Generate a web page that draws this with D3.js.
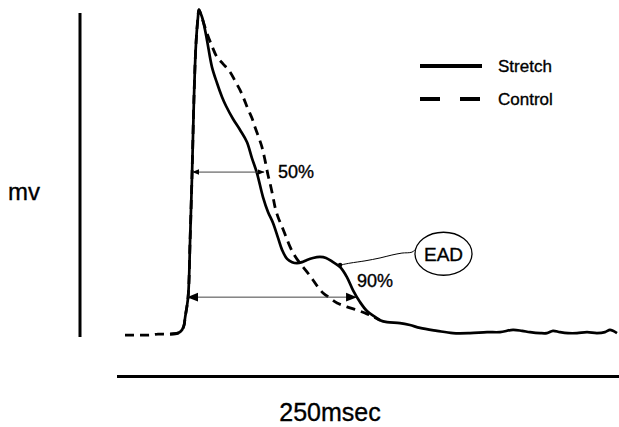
<!DOCTYPE html>
<html><head><meta charset="utf-8">
<script src="https://cdn.jsdelivr.net/npm/d3@7"></script>
<style>body{margin:0;background:#fff}svg{display:block}text{font-family:"Liberation Sans",Arial,Helvetica,sans-serif;fill:#000;stroke:#000;stroke-width:0.35px}</style>
</head><body>
<script>
// time in ms, voltage as % of scale bar
const stretchT = [26.4,30.4,32.4,33.4,33.9,35.4,36.4,37.4,38.3,39.3,40.3,40.8,41.8,42.8,44.8,47.3,49.8,52.3,54.3,57.8,61.3,64.7,67.2,69.7,72.7,75.2,77.7,80.2,82.2,84.7,87.2,89.6,92.1,94.6,97.6,101.1,104.1,107.6,111.1,114.5,117.5,121.0,124.5,128.5,131.0,134.5,140.9,145.9,150.9,159.4,167.3,175.8,184.3,190.7,197.2,201.7,205.7,210.7,214.1,217.1,220.6,224.6,229.1,234.1,239.0,243.0,245.5,247.0,249.0];
const stretchV = [0.9,1.2,2.2,3.7,5.9,12.3,29.9,50.9,73.1,90.1,98.5,101.0,99.7,97.8,91.7,83.3,78.4,74.1,71.3,67.3,63.9,60.2,55.2,50.6,43.2,38.6,35.2,30.6,26.9,24.1,23.1,22.8,23.1,23.8,24.4,24.7,24.4,23.1,21.6,18.5,14.5,10.8,8.0,6.2,5.2,4.6,4.3,3.7,2.8,1.9,1.2,1.2,1.5,1.5,2.2,1.9,1.5,1.2,1.2,1.9,1.5,1.2,1.2,1.5,1.2,1.5,2.2,1.9,1.2];
const controlT = [4.0,7.5,11.5,16.4,20.4,26.4,30.4,32.4,33.4,33.9,35.4,36.4,37.4,38.3,39.3,40.3,40.8,42.3,44.8,47.3,49.8,52.8,56.3,58.8,61.3,63.2,65.2,67.2,68.7,70.7,72.2,73.7,75.2,76.2,77.7,78.7,80.2,82.2,84.2,86.2,88.6,91.1,94.6,97.6,100.1,102.6,106.1,109.6,114.5,119.5,123.5,127.0,131.0];
const controlV = [0.6,0.6,0.6,0.6,0.9,0.9,1.2,2.2,3.7,5.9,12.3,29.9,50.9,73.1,90.1,98.5,101.0,98.5,93.8,89.8,86.4,84.3,81.8,79.0,76.2,73.5,70.4,67.6,64.8,61.4,58.6,54.6,50.0,47.5,43.2,40.1,37.0,34.0,30.9,27.8,25.0,22.8,20.1,17.6,15.4,13.6,12.0,10.5,9.3,8.3,7.4,6.5,5.2];
const seriesNames = ["Stretch","Control"];
const arrow50 = {t0:37.8, t1:73.2, v:50.9, label:"50%"};
const arrow90 = {t0:35.4, t1:119.0, v:12.3, label:"90%"};
const eadT = [111.1,116.0,123.5,131.0,136.9,141.9,146.9,148.9];
const eadV = [22.2,22.8,23.5,24.4,25.3,25.9,26.2,27.2];
const eadCenter = {t:162.6, v:25.7, label:"EAD"};
const timeBar = {ms:250, label:"250msec"};
const voltBar = {label:"mv"};

const W=619,H=427;
const x = d3.scaleLinear().domain([0,250]).range([117,619]);
const y = d3.scaleLinear().domain([0,100]).range([337,13]);
const svg = d3.select("body").append("svg").attr("width",W).attr("height",H);

const defs = svg.append("defs");
function marker(id,size){
  defs.append("marker").attr("id",id).attr("viewBox","0 0 10 10").attr("refX",9).attr("refY",5)
    .attr("markerWidth",size).attr("markerHeight",size).attr("markerUnits","userSpaceOnUse").attr("orient","auto-start-reverse")
    .append("path").attr("d","M0,1 L10,5 L0,9 Z").attr("fill","#000");
}
marker("ahs",7); marker("ahl",11);

// scale bars
svg.append("line").attr("x1",80).attr("x2",80).attr("y1",y(100)).attr("y2",y(0)).attr("stroke","#000").attr("stroke-width",3);
svg.append("line").attr("x1",x(0)).attr("x2",x(timeBar.ms)).attr("y1",376.5).attr("y2",376.5).attr("stroke","#000").attr("stroke-width",3);
svg.append("text").attr("x",8).attr("y",200).attr("font-size",24).text(voltBar.label);
svg.append("text").attr("x",330).attr("y",421).attr("text-anchor","middle").attr("font-size",25).text(timeBar.label);

const line = d3.line().x(d=>x(d[0])).y(d=>y(d[1])).curve(d3.curveCatmullRom.alpha(0.5));
const ctrl = controlT.map((t,i)=>[t,controlV[i]]);
const str = stretchT.map((t,i)=>[t,stretchV[i]]);
svg.append("path").attr("d",line(ctrl)).attr("fill","none").attr("stroke","#000").attr("stroke-width",2.8).attr("stroke-dasharray","9,6");
svg.append("path").attr("d",line(str)).attr("fill","none").attr("stroke","#000").attr("stroke-width",2.7).attr("stroke-linejoin","round");

// arrows
svg.append("line").attr("x1",x(arrow50.t0)).attr("x2",x(arrow50.t1)).attr("y1",y(arrow50.v)).attr("y2",y(arrow50.v))
  .attr("stroke","#444").attr("stroke-width",1).attr("marker-start","url(#ahs)").attr("marker-end","url(#ahs)");
svg.append("text").attr("x",278).attr("y",178).attr("font-size",18).text(arrow50.label);
svg.append("line").attr("x1",x(arrow90.t0)).attr("x2",x(arrow90.t1)).attr("y1",y(arrow90.v)).attr("y2",y(arrow90.v))
  .attr("stroke","#444").attr("stroke-width",1).attr("marker-start","url(#ahl)").attr("marker-end","url(#ahl)");
svg.append("text").attr("x",357).attr("y",287).attr("font-size",18).text(arrow90.label);

// EAD callout
const ead = eadT.map((t,i)=>[t,eadV[i]]);
svg.append("path").attr("d",line(ead)).attr("fill","none").attr("stroke","#000").attr("stroke-width",1);
svg.append("circle").attr("cx",x(ead[0][0])).attr("cy",y(ead[0][1])).attr("r",2.2).attr("fill","#000");
svg.append("ellipse").attr("cx",x(eadCenter.t)).attr("cy",y(eadCenter.v)).attr("rx",28.5).attr("ry",21.5)
  .attr("fill","#fff").attr("stroke","#000").attr("stroke-width",1.3);
svg.append("text").attr("x",x(eadCenter.t)).attr("y",y(eadCenter.v)+7).attr("text-anchor","middle").attr("font-size",19).text(eadCenter.label);

// legend
const lg = svg.append("g");
seriesNames.forEach((n,i)=>{
  const yy = 66 + i*33;
  lg.append("line").attr("x1",420).attr("x2",482).attr("y1",yy).attr("y2",yy).attr("stroke","#000").attr("stroke-width",4)
    .attr("stroke-dasharray", i===1 ? "20,20" : null);
  lg.append("text").attr("x",498).attr("y",yy+6).attr("font-size",17).text(n);
});
</script>
</body></html>
